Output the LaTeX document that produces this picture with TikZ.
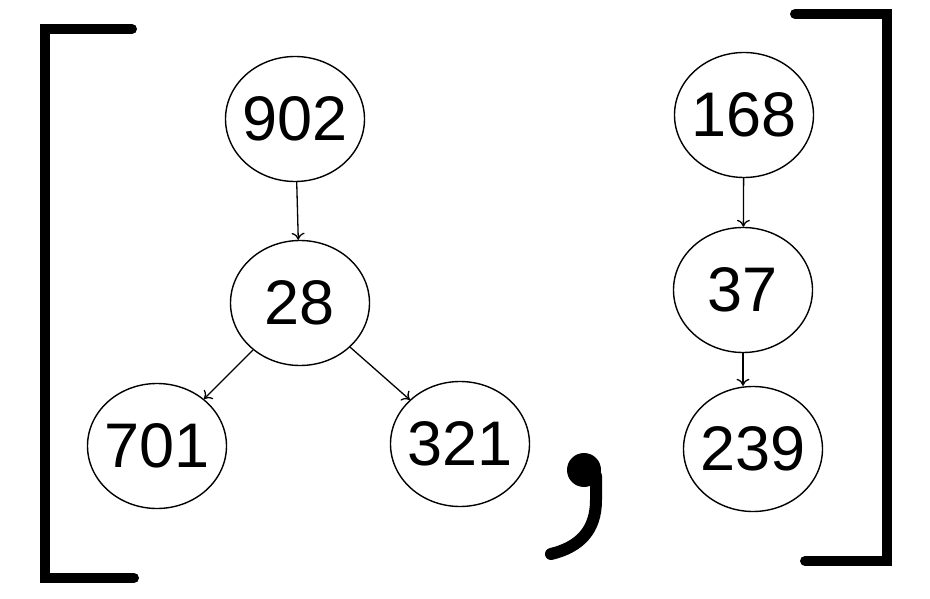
\documentclass[tikz,border=0pt]{standalone}
\usepackage{fontspec}
\setmainfont{Liberation Sans}
\usetikzlibrary{shapes.geometric,arrows.meta}
\newcommand{\lbl}[1]{\makebox[0pt][c]{#1}}
\begin{document}
\begin{tikzpicture}[x=1pt,y=-1pt,
  tnode/.style={ellipse,draw,line width=1.4pt,minimum width=139pt,minimum height=125pt,inner sep=0pt,
    font=\fontsize{63}{63}\selectfont},
  edge/.style={line width=1.3pt,-{To[length=7pt,width=13pt]}},
  brk/.style={line width=10pt,line cap=round,line join=miter}]
\useasboundingbox (0,0) rectangle (930,599);
% left list
\node[tnode] (n902) at (295,119) {\lbl{902}};
\node[tnode] (n28)  at (300,303) {\lbl{28}};
\node[tnode] (n701) at (157,446) {\lbl{701}};
\node[tnode] (n321) at (460,444) {\lbl{321}};
% right list
\node[tnode] (n168) at (744,115) {\lbl{168}};
\node[tnode] (n37)  at (743,290) {\lbl{37}};
\node[tnode] (n239) at (753,449) {\lbl{239}};
\draw[edge] (n902) -- (n28);
\draw[edge] (n28) -- (n701);
\draw[edge] (n28) -- (n321);
\draw[edge] (n168) -- (n37);
\draw[edge] (n37) -- (n37 |- n239.north);
% brackets
\draw[brk] (132,29) -- (44.5,29) -- (44.5,578) -- (134,578);
\draw[brk] (795,14) -- (886.5,14) -- (886.5,561) -- (805,561);
% comma
\fill (584,470) circle[radius=17];
\draw[line width=12pt,line cap=round] (596,476) -- (596,500) .. controls (596,530) and (580,547) .. (551,554);
\end{tikzpicture}
\end{document}
